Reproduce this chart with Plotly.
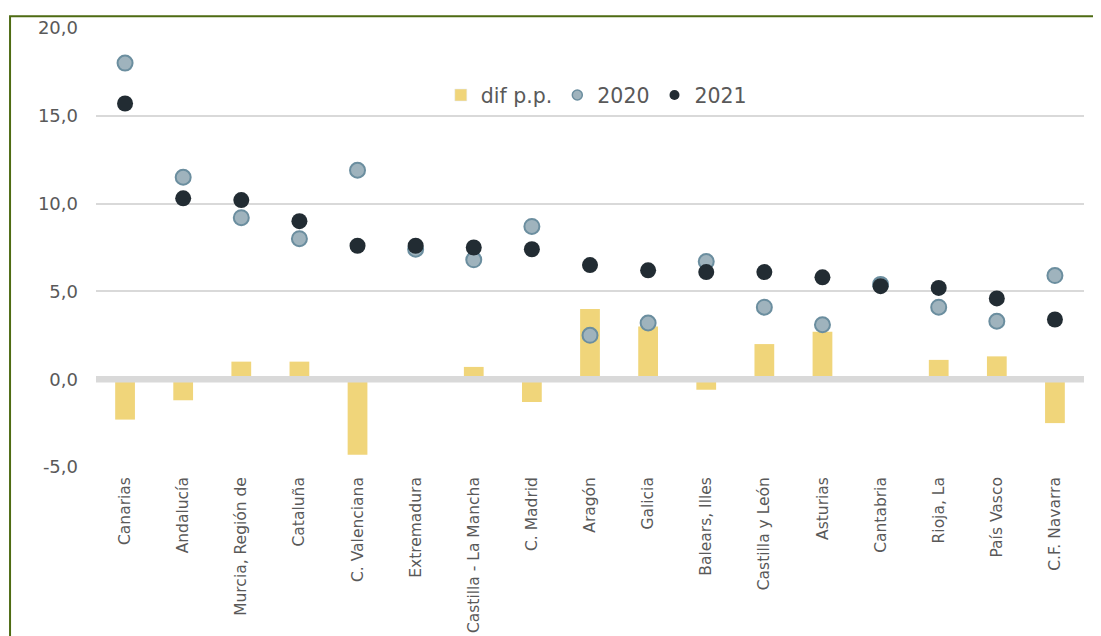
import plotly.graph_objects as go

regiones = [
    "Canarias", "Andalucía", "Murcia, Región de", "Cataluña", "C. Valenciana",
    "Extremadura", "Castilla - La Mancha", "C. Madrid", "Aragón", "Galicia",
    "Balears, Illes", "Castilla y León", "Asturias", "Cantabria", "Rioja, La",
    "País Vasco", "C.F. Navarra",
]
valores_2020 = [18.0, 11.5, 9.2, 8.0, 11.9, 7.4, 6.8, 8.7, 2.5, 3.2,
                6.7, 4.1, 3.1, 5.4, 4.1, 3.3, 5.9]
valores_2021 = [15.7, 10.3, 10.2, 9.0, 7.6, 7.6, 7.5, 7.4, 6.5, 6.2,
                6.1, 6.1, 5.8, 5.3, 5.2, 4.6, 3.4]
dif_pp = [-2.3, -1.2, 1.0, 1.0, -4.3, 0.1, 0.7, -1.3, 4.0, 3.0,
          -0.6, 2.0, 2.7, -0.1, 1.1, 1.3, -2.5]
y_ticks = [-5, 0, 5, 10, 15, 20]
y_tick_labels = ["-5,0", "0,0", "5,0", "10,0", "15,0", "20,0"]

BAR_COLOR = "#f0d57a"
C2020_FILL = "#9fb3bd"
C2020_LINE = "#6b8e9f"
C2021 = "#222c33"
TEXT = "#595959"
GRID = "#d9d9d9"

fig = go.Figure()

fig.add_trace(go.Bar(
    x=regiones, y=dif_pp, name="dif p.p.",
    marker=dict(color=BAR_COLOR, line=dict(width=0)),
    width=0.34, showlegend=False,
))
fig.add_trace(go.Scatter(
    x=regiones, y=valores_2020, name="2020", mode="markers",
    marker=dict(size=15, color=C2020_FILL, line=dict(color=C2020_LINE, width=2)),
    showlegend=False,
))
fig.add_trace(go.Scatter(
    x=regiones, y=valores_2021, name="2021", mode="markers",
    marker=dict(size=16, color=C2021, line=dict(width=0)),
    showlegend=False,
))

# legend entries with smaller symbols, as in the original
fig.add_trace(go.Bar(x=[None], y=[None], name="dif p.p.",
                     marker=dict(color=BAR_COLOR)))
fig.add_trace(go.Scatter(x=[None], y=[None], name="2020", mode="markers",
                         marker=dict(size=10, color=C2020_FILL,
                                     line=dict(color=C2020_LINE, width=1.5))))
fig.add_trace(go.Scatter(x=[None], y=[None], name="2021", mode="markers",
                         marker=dict(size=10, color=C2021)))

# the page body has an 8px margin, so the figure is offset by 8px
fig.update_layout(
    width=1085, height=636,
    margin=dict(l=88, r=9, t=18, b=177),
    paper_bgcolor="white", plot_bgcolor="white",
    font=dict(family="DejaVu Sans, Verdana, sans-serif", color=TEXT, size=16),
    barmode="overlay",
    legend=dict(
        orientation="h", x=0.349, y=0.847, xanchor="left", yanchor="middle",
        font=dict(size=20.5, color=TEXT), bgcolor="rgba(0,0,0,0)",
        itemwidth=30, traceorder="normal",
    ),
    xaxis=dict(
        type="category", categoryorder="array", categoryarray=regiones,
        range=[-0.5, len(regiones) - 0.5],
        tickangle=-90, tickfont=dict(size=15.5, color=TEXT),
        showgrid=False, showline=False, ticks="", ticklabelstandoff=6,
    ),
    yaxis=dict(
        range=[-5, 20], tickvals=y_ticks, ticktext=y_tick_labels,
        showgrid=True, gridcolor=GRID, gridwidth=2,
        zeroline=False, showline=False, ticks="",
        ticklabelstandoff=17, tickfont=dict(size=18, color=TEXT),
    ),
    shapes=[
        # thick zero line drawn over the bars
        dict(type="line", xref="paper", yref="y", x0=0, x1=1, y0=0, y1=0,
             line=dict(color=GRID, width=6.5), layer="above"),
        # green frame around the chart (cropped at right and bottom)
        dict(type="rect", xref="paper", yref="paper",
             x0=-0.087, x1=1.03, y0=-0.45, y1=1.027,
             line=dict(color="#4e6b13", width=2), layer="above"),
    ],
)

fig.write_html("out.html")
